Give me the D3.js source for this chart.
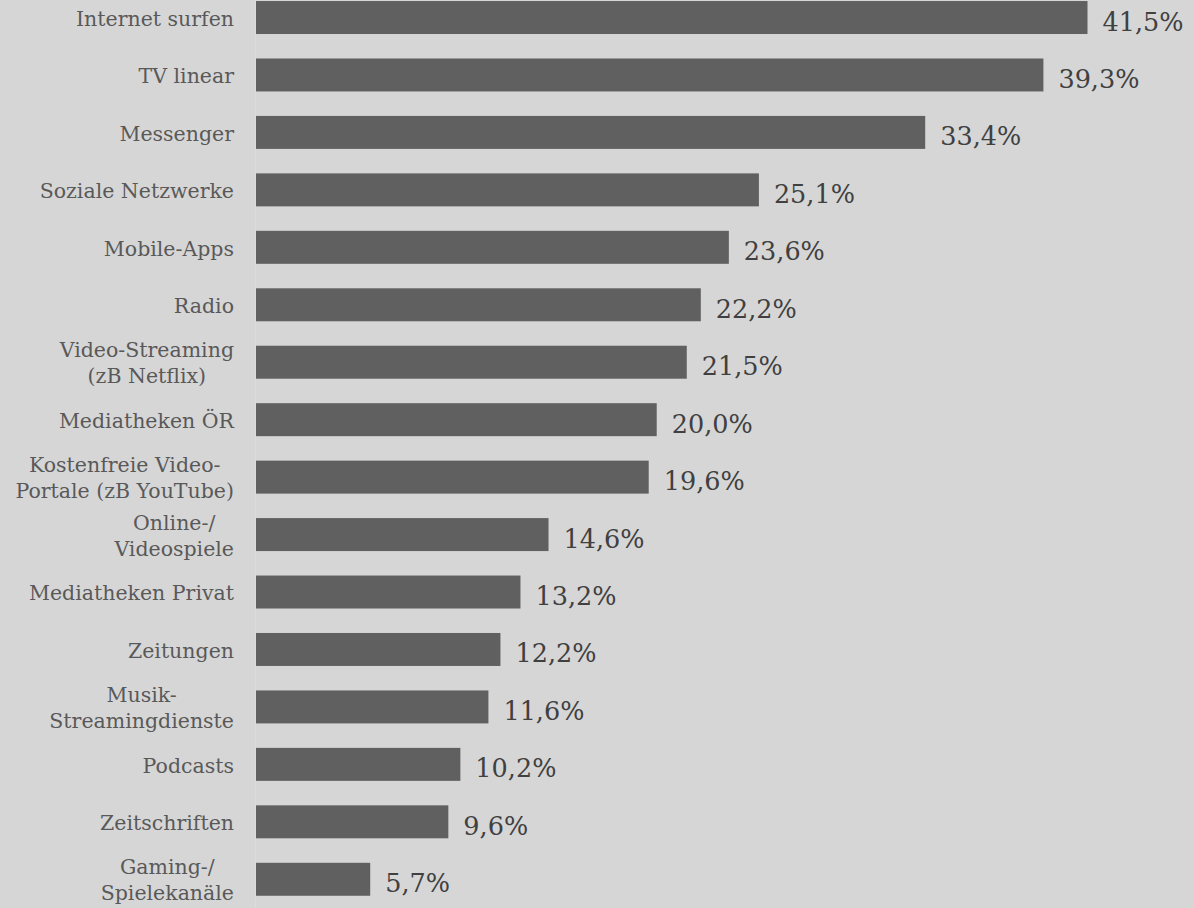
<!DOCTYPE html>
<html>
<head>
<meta charset="utf-8">
<script src="https://cdn.jsdelivr.net/npm/d3@7"></script>
<style>
  html, body { margin: 0; padding: 0; background: #d6d6d6; }
  svg { display: block; }
</style>
</head>
<body>
<script>
const categories = [
  ["Internet surfen"],
  ["TV linear"],
  ["Messenger"],
  ["Soziale Netzwerke"],
  ["Mobile-Apps"],
  ["Radio"],
  ["Video-Streaming", "(zB Netflix)"],
  ["Mediatheken ÖR"],
  ["Kostenfreie Video-", "Portale (zB YouTube)"],
  ["Online-/", "Videospiele"],
  ["Mediatheken Privat"],
  ["Zeitungen"],
  ["Musik-", "Streamingdienste"],
  ["Podcasts"],
  ["Zeitschriften"],
  ["Gaming-/", "Spielekanäle"]
];
const values = [41.5, 39.3, 33.4, 25.1, 23.6, 22.2, 21.5, 20.0, 19.6, 14.6, 13.2, 12.2, 11.6, 10.2, 9.6, 5.7];
const valueLabels = ["41,5%", "39,3%", "33,4%", "25,1%", "23,6%", "22,2%", "21,5%", "20,0%", "19,6%", "14,6%", "13,2%", "12,2%", "11,6%", "10,2%", "9,6%", "5,7%"];

const W = 1194, H = 908;
const svg = d3.select("body").append("svg").attr("width", W).attr("height", H);
svg.append("rect").attr("width", W).attr("height", H).attr("fill", "#d6d6d6");

const ids = categories.map((c, i) => i);
const y = d3.scaleBand().domain(ids).range([-11.2, 908]).paddingInner(0.426).paddingOuter(0.213);
const x = d3.scaleLinear().domain([0, 45]).range([256, 256 + 45 * 20.036]);

// axis line
svg.append("line").attr("x1", 255.5).attr("x2", 255.5).attr("y1", 0).attr("y2", H)
  .attr("stroke", "#dcdcdc").attr("stroke-width", 1);

svg.selectAll("rect.bar").data(values).join("rect").attr("class", "bar")
  .attr("x", x(0)).attr("y", (d, i) => y(i))
  .attr("width", d => x(d) - x(0)).attr("height", y.bandwidth())
  .attr("fill", "#606060");

svg.selectAll("text.val").data(values).join("text").attr("class", "val")
  .attr("x", d => x(d) + 15).attr("y", (d, i) => y(i) + y.bandwidth() / 2 + 13)
  .attr("font-family", "'DejaVu Serif', serif").attr("font-size", 25.5)
  .attr("fill", "#404040").text((d, i) => valueLabels[i]);

const labelFont = "'DejaVu Serif', serif";
const lineH = 26;
categories.forEach((lines, i) => {
  const g = svg.append("text").attr("font-family", labelFont).attr("font-size", 20.5)
    .attr("fill", "#595959").attr("text-anchor", "middle");
  const cy = y(i) + y.bandwidth() / 2 + 1;
  const n = lines.length;
  const spans = lines.map((l, k) => g.append("tspan").attr("y", cy + (k - (n - 1) / 2) * lineH).attr("dy", "0.35em").text(l));
  const maxW = d3.max(spans, s => s.node().getComputedTextLength());
  spans.forEach(s => s.attr("x", 234 - maxW / 2));
});
</script>
</body>
</html>
